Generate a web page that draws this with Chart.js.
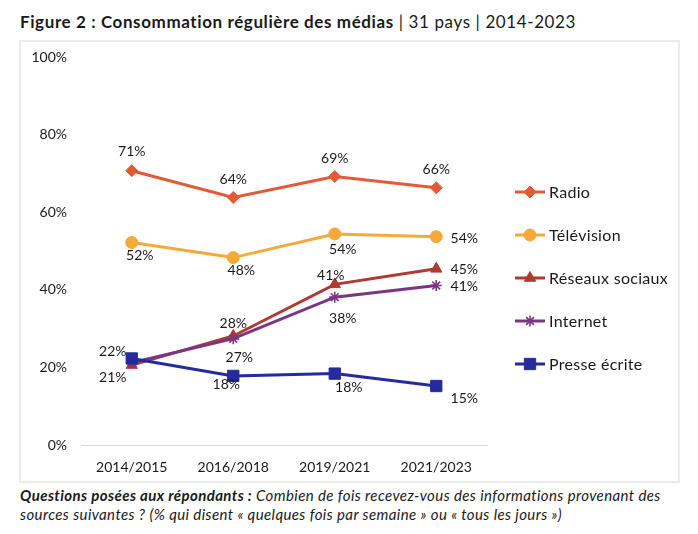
<!DOCTYPE html>
<html lang="fr">
<head>
<meta charset="utf-8">
<script src="https://cdn.jsdelivr.net/npm/chart.js@4/dist/chart.umd.min.js"></script>
<style>
  html, body { margin: 0; padding: 0; background: #fff; }
  body { width: 698px; height: 534px; position: relative; overflow: hidden; font-family: Lato, "Noto Sans", sans-serif; color: #1a1a1a; }
  #title { position: absolute; left: 20px; top: 11px; font-size: 17px; letter-spacing: 0.6px; white-space: nowrap; }
  #title b { font-weight: 700; }
  #box { position: absolute; left: 19px; top: 40px; width: 661px; height: 443px; box-sizing: border-box; border: 2px solid #ececec; }
  #wrap { position: absolute; left: 21px; top: 42px; width: 657px; height: 439px; }
  #footer { position: absolute; left: 20px; top: 486px; font-size: 15px; letter-spacing: 0.4px; line-height: 19px; font-style: italic; white-space: nowrap; }
</style>
</head>
<body>
<div id="title"><b>Figure 2 : Consommation régulière des médias</b> | 31 pays | 2014-2023</div>
<div id="box"></div>
<div id="wrap"><canvas id="c" width="657" height="439"></canvas></div>
<div id="footer"><b>Questions posées aux répondants :</b> Combien de fois recevez-vous des informations provenant des<br>sources suivantes ? (% qui disent « quelques fois par semaine » ou « tous les jours »)</div>
<script>
// ---- data ----
const categories = ["2014/2015", "2016/2018", "2019/2021", "2021/2023"];
const seriesNames = ["Radio", "Télévision", "Réseaux sociaux", "Internet", "Presse écrite"];
const radio = [70.7, 63.8, 69.2, 66.3];
const television = [52.2, 48.3, 54.4, 53.7];
const reseauxSociaux = [20.6, 28.1, 41.4, 45.4];
const internet = [21.2, 27.4, 38.1, 41.1];
const presseEcrite = [22.3, 17.8, 18.4, 15.2];
const yTicks = [0, 20, 40, 60, 80, 100];

// ---- styling (separate from data) ----
const colors = ["#E35B35", "#F5AA37", "#AE3A33", "#7B3582", "#252B9C"];
const pointStyles = ["rectRot", "circle", "triangle", "star", "rect"];
const pointRadii = [6, 6, 6.5, 5.5, 8];
const drawOrder = [4, 3, 2, 1, 0];
// label offsets [dx, dy] from the point, null = no label
const labelPlacement = [
  [[0, -19], [0, -18], [0, -18], [0, -18]],
  [[8, 13], [8, 13], [8, 16], [28, 2]],
  [[-19, 12], [0, -12], [-4, -9], [28, 1]],
  [null, [6, 19], [8, 21], [28, 1]],
  [[-19, -7], [-7, 9], [14, 14], [28, 12]]
];
const seriesValues = [radio, television, reseauxSociaux, internet, presseEcrite];
const FONT = "Lato, 'Noto Sans', sans-serif";
const TEXT = "#1a1a1a";

const datasets = seriesNames.map((name, i) => ({
  label: name,
  data: seriesValues[i],
  borderColor: colors[i],
  backgroundColor: colors[i],
  borderWidth: 3,
  pointStyle: pointStyles[i],
  pointRadius: pointRadii[i],
  pointHoverRadius: pointRadii[i],
  pointBorderWidth: pointStyles[i] === "star" ? 1.6 : 1,
  pointBorderColor: colors[i],
  pointBackgroundColor: colors[i],
  tension: 0,
  order: drawOrder[i]
}));

const labelPlugin = {
  id: "pointLabels",
  afterDatasetsDraw(chart) {
    const ctx = chart.ctx;
    ctx.save();
    ctx.font = "14px " + FONT;
    ctx.fillStyle = TEXT;
    ctx.textAlign = "center";
    ctx.textBaseline = "middle";
    chart.data.datasets.forEach((ds, i) => {
      const meta = chart.getDatasetMeta(i);
      meta.data.forEach((pt, j) => {
        const p = labelPlacement[i][j];
        if (!p) return;
        ctx.fillText(Math.round(ds.data[j]) + "%", pt.x + p[0], pt.y + p[1]);
      });
    });
    ctx.restore();
  }
};

const legendPlugin = {
  id: "customLegend",
  afterDraw(chart) {
    const ctx = chart.ctx;
    const area = chart.chartArea;
    const x0 = area.right + 28;
    const lineLen = 30;
    const step = 43;
    const y0 = area.top + 135;
    ctx.save();
    chart.data.datasets.forEach((ds, i) => {
      const y = y0 + i * step;
      ctx.strokeStyle = ds.borderColor;
      ctx.lineWidth = 3;
      ctx.beginPath();
      ctx.moveTo(x0, y);
      ctx.lineTo(x0 + lineLen, y);
      ctx.stroke();
      ctx.fillStyle = ds.backgroundColor;
      ctx.strokeStyle = ds.borderColor;
      ctx.lineWidth = ds.pointBorderWidth;
      if (Chart.helpers && Chart.helpers.drawPoint) {
        Chart.helpers.drawPoint(ctx, {pointStyle: ds.pointStyle, radius: ds.pointRadius, rotation: 0, borderWidth: ds.pointBorderWidth}, x0 + lineLen / 2, y);
      }
      ctx.fillStyle = TEXT;
      ctx.font = "16px " + FONT;
      if ("letterSpacing" in ctx) ctx.letterSpacing = "0.3px";
      ctx.textAlign = "left";
      ctx.textBaseline = "middle";
      ctx.fillText(ds.label, x0 + lineLen + 4, y + 1);
      if ("letterSpacing" in ctx) ctx.letterSpacing = "0px";
    });
    ctx.restore();
  }
};

new Chart(document.getElementById("c"), {
  type: "line",
  data: { labels: categories, datasets: datasets },
  options: {
    responsive: false,
    animation: false,
    events: [],
    layout: { padding: { left: 0, right: 191, top: 15, bottom: 0 } },
    plugins: { legend: { display: false }, tooltip: { enabled: false } },
    scales: {
      x: {
        offset: true,
        grid: { display: false, drawTicks: false },
        border: { display: true, color: "#d9d9d9", width: 1 },
        ticks: { color: TEXT, font: { family: FONT, size: 14 }, padding: 14, maxRotation: 0 },
        afterFit(s) { s.height = 36; }
      },
      y: {
        min: 0, max: 100,
        afterBuildTicks(s) { s.ticks = yTicks.map(v => ({ value: v })); },
        grid: { display: false, drawTicks: false },
        border: { display: false },
        ticks: { color: TEXT, font: { family: FONT, size: 14 }, padding: 14, callback: v => v + "%" },
        afterFit(s) { s.width = 60; s.paddingTop = 0; s.paddingBottom = 0; }
      }
    }
  },
  plugins: [labelPlugin, legendPlugin]
});
</script>
</body>
</html>
